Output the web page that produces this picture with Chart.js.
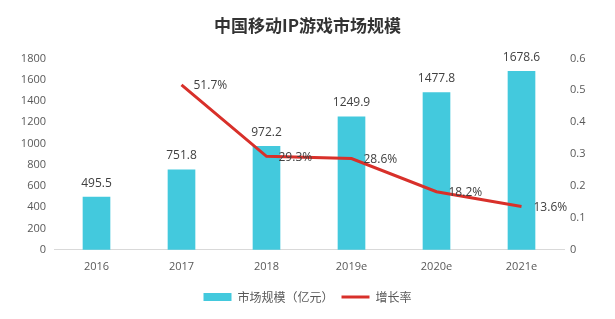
<!DOCTYPE html>
<html>
<head>
<meta charset="utf-8">
<script src="https://cdn.jsdelivr.net/npm/chart.js@4/dist/chart.umd.min.js"></script>
<style>
html,body{margin:0;padding:0;background:#fff;}
#wrap{width:615px;height:319px;position:relative;}
</style>
</head>
<body>
<div id="wrap"><canvas id="c" width="615" height="319"></canvas></div>
<script>
const categories = ['2016', '2017', '2018', '2019e', '2020e', '2021e'];
const marketSize = [495.5, 751.8, 972.2, 1249.9, 1477.8, 1678.6];
const growthRate = [null, 0.517, 0.293, 0.286, 0.182, 0.136];
const growthLabels = [null, '51.7%', '29.3%', '28.6%', '18.2%', '13.6%'];
const titleText = '中国移动IP游戏市场规模';
const barName = '市场规模（亿元）';
const lineName = '增长率';

const BAR = '#43c9dd';
const LINE = '#d8302a';
const TICK = '#595959';
const CJK = '"Noto Sans CJK SC", "Noto Sans", sans-serif';
const LAT = '"Open Sans", "Noto Sans", sans-serif';

const labelPlugin = {
  id: 'valueLabels',
  afterDatasetsDraw(chart) {
    const ctx = chart.ctx;
    ctx.save();
    ctx.fillStyle = '#404040';
    ctx.font = '12px ' + LAT;
    ctx.textBaseline = 'middle';
    const m0 = chart.getDatasetMeta(0);
    ctx.textAlign = 'center';
    m0.data.forEach((el, i) => {
      ctx.fillText(marketSize[i].toFixed(1), el.x, el.y - 14);
    });
    const m1 = chart.getDatasetMeta(1);
    ctx.textAlign = 'left';
    m1.data.forEach((el, i) => {
      if (growthLabels[i] == null) return;
      ctx.fillText(growthLabels[i], el.x + 12, el.y + 1);
    });
    ctx.restore();
  }
};

new Chart(document.getElementById('c'), {
  data: {
    labels: categories,
    datasets: [
      {
        type: 'bar',
        label: barName,
        data: marketSize,
        backgroundColor: BAR,
        barThickness: 27,
        yAxisID: 'y',
        order: 2
      },
      {
        type: 'line',
        label: lineName,
        data: growthRate,
        borderColor: LINE,
        backgroundColor: LINE,
        borderWidth: 3,
        pointRadius: 0,
        tension: 0,
        yAxisID: 'y1',
        order: 1
      }
    ]
  },
  options: {
    responsive: false,
    animation: false,
    layout: { padding: { top: 0, left: 0, right: 0, bottom: 6 } },
    plugins: {
      title: {
        display: true,
        text: titleText,
        color: '#333333',
        font: { family: CJK, size: 17, weight: 'bold' },
        padding: { top: 15, bottom: 23 }
      },
      legend: {
        position: 'bottom',
        labels: {
          color: TICK,
          font: { family: CJK, size: 12 },
          usePointStyle: true,
          boxWidth: 28,
          boxHeight: 8,
          pointStyleWidth: 28,
          padding: 8,
          generateLabels(chart) {
            return [
              { text: barName, fillStyle: BAR, strokeStyle: BAR, lineWidth: 0, pointStyle: 'rect', datasetIndex: 0, fontColor: TICK },
              { text: lineName, fillStyle: LINE, strokeStyle: LINE, lineWidth: 3, pointStyle: 'line', datasetIndex: 1, fontColor: TICK }
            ];
          }
        }
      },
      tooltip: { enabled: false }
    },
    scales: {
      x: {
        grid: { display: false, drawTicks: false },
        border: { display: true, color: '#d9d9d9', width: 1 },
        ticks: { color: TICK, font: { family: LAT, size: 11 }, padding: 10 }
      },
      y: {
        position: 'left',
        min: 0, max: 1800,
        grid: { display: false, drawTicks: false },
        border: { display: false },
        ticks: { stepSize: 200, color: TICK, font: { family: LAT, size: 11 }, padding: 8,
          callback: v => String(v) },
        afterFit(s) { s.width = 54; }
      },
      y1: {
        position: 'right',
        min: 0, max: 0.6,
        grid: { display: false, drawTicks: false },
        border: { display: false },
        ticks: { stepSize: 0.1, color: TICK, font: { family: LAT, size: 11 }, padding: 6,
          callback: v => (Math.round(v * 10) / 10).toString() },
        afterFit(s) { s.width = 51; }
      }
    }
  },
  plugins: [labelPlugin]
});
</script>
</body>
</html>
